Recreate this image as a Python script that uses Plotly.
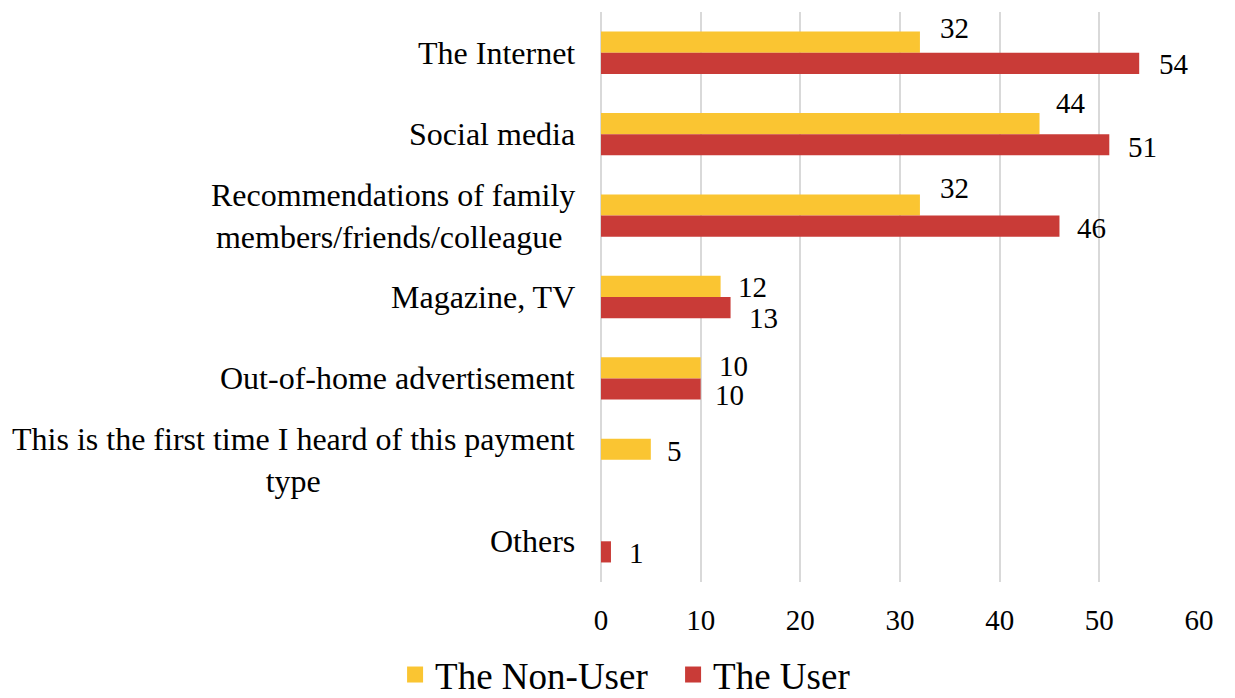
import plotly.graph_objects as go

# Survey: where respondents first heard about the payment type (%)
categories = [
    "The Internet",
    "Social media",
    "Recommendations of family<br>members/friends/colleague ",
    "Magazine, TV",
    "Out-of-home advertisement",
    "This is the first time I heard of this payment<br>type",
    "Others",
]
non_user = [32, 44, 32, 12, 10, 5, None]
user = [54, 51, 46, 13, 10, None, 1]
x_ticks = [0, 10, 20, 30, 40, 50, 60]

series_names = ["The Non-User", "The User"]
colors = ["#FAC532", "#C93B37"]

# label nudges in pixels (dx right, dy down) for the value labels
non_user_dx = [20, 16, 20, 17, 18, 16, 0]
non_user_dy = [-14, -21, -17, 1, -2, 2, 0]
user_dx = [20, 19, 18, 18, 14, 0, 18]
user_dy = [1, 2, 2, 10, 6, 0, 1]

W, H = 1235, 698
M_L, M_R, M_T, M_B = 601, 36, 12, 116
BARGAP = 0.48

FONT = "Liberation Serif, Times New Roman, serif"

fig = go.Figure()
for name, vals, col in zip(series_names, [non_user, user], colors):
    fig.add_trace(go.Bar(
        y=categories, x=vals, orientation="h", name=name,
        marker=dict(color=col, line=dict(width=0)),
        showlegend=False, hoverinfo="x+name",
    ))
    # legend entry with a larger square swatch
    fig.add_trace(go.Scatter(
        x=[None], y=[None], mode="markers", name=name,
        marker=dict(symbol="square", size=19, color=col),
    ))

# pixel geometry of one category band and one bar
plot_h = H - M_T - M_B
band = plot_h / len(categories)
bar_h = band * (1 - BARGAP) / 2

annotations = []
# category labels, centred block right-aligned against the axis
for c in categories:
    annotations.append(dict(
        x=0, xref="paper", xanchor="right", xshift=-24,
        y=c, yref="y", yanchor="middle",
        text=c, showarrow=False, align="center",
        font=dict(family=FONT, size=32, color="#000000"),
    ))

# value labels at the bar ends
for vals, dxs, dys, sign in [(non_user, non_user_dx, non_user_dy, 1),
                             (user, user_dx, user_dy, -1)]:
    for c, v, dx, dy in zip(categories, vals, dxs, dys):
        if v is None:
            continue
        annotations.append(dict(
            x=v, xref="x", xanchor="left", xshift=dx - 2,
            y=c, yref="y", yanchor="middle",
            yshift=sign * bar_h / 2 - dy,
            text=str(v), showarrow=False,
            font=dict(family=FONT, size=29, color="#000000"),
        ))

fig.update_layout(
    width=W, height=H,
    margin=dict(l=M_L, r=M_R, t=M_T, b=M_B, pad=0, autoexpand=False),
    paper_bgcolor="white", plot_bgcolor="white",
    barmode="group", bargap=BARGAP, bargroupgap=0,
    font=dict(family=FONT, size=29, color="#000000"),
    xaxis=dict(
        range=[0, 60], tickvals=x_ticks, ticktext=[str(t) for t in x_ticks],
        showgrid=True, gridcolor="#D9D9D9", gridwidth=2,
        zeroline=True, zerolinecolor="#D9D9D9", zerolinewidth=2,
        showline=False, ticks="", ticklabelstandoff=18,
        tickfont=dict(family=FONT, size=29, color="#000000"),
        fixedrange=True,
    ),
    yaxis=dict(
        type="category", autorange="reversed",
        showticklabels=False, showgrid=False, zeroline=False, showline=False,
        ticks="", fixedrange=True,
    ),
    legend=dict(
        orientation="h", xref="container", yref="container",
        x=0.545, xanchor="center", y=0.033, yanchor="middle",
        font=dict(family=FONT, size=37, color="#000000"),
        itemsizing="trace", tracegroupgap=0, itemwidth=30,
        entrywidth=233, entrywidthmode="pixels",
        bgcolor="rgba(0,0,0,0)",
    ),
    annotations=annotations,
)

fig.write_html("out.html")
